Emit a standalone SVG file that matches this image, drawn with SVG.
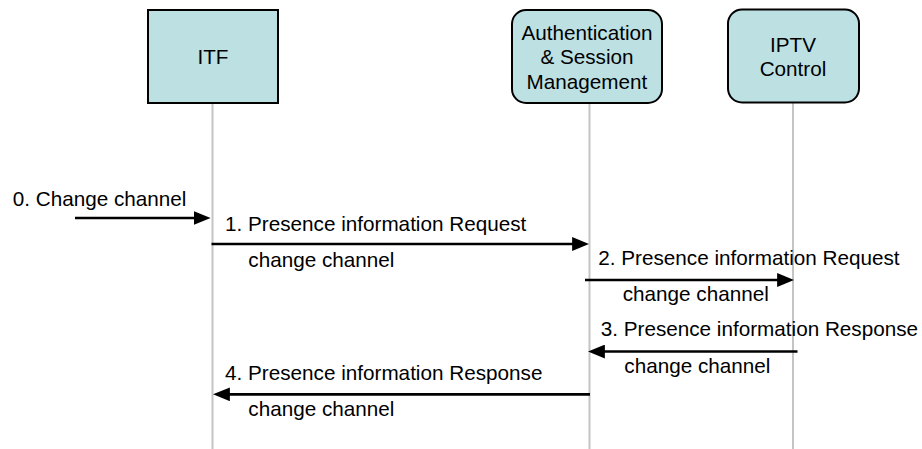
<svg xmlns="http://www.w3.org/2000/svg" width="922" height="449" viewBox="0 0 922 449">
<defs>
<style>
text{font-family:"Liberation Sans",Arial,sans-serif;font-size:20.7px;fill:#000}
.box{fill:#bde0e3;stroke:#000;stroke-width:2}
.life{stroke:#c4c4c4;stroke-width:2;fill:none}
.msg{stroke:#000;stroke-width:2.7;fill:none;marker-end:url(#ah)}
.c{text-anchor:middle}
</style>
<marker id="ah" markerUnits="userSpaceOnUse" markerWidth="17" markerHeight="14" viewBox="0 0 16 13" refX="6" refY="6.5" orient="auto">
<path d="M0,0 L16,6.5 L0,13 z" fill="#000"/>
</marker>
</defs>
<rect width="922" height="449" fill="#fff"/>
<g id="lifelines">
<line class="life" x1="212.5" y1="103" x2="212.5" y2="449"/>
<line class="life" x1="589.5" y1="103" x2="589.5" y2="449"/>
<line class="life" x1="793" y1="103" x2="793" y2="449"/>
</g>
<g id="node-itf">
<rect class="box" x="148" y="10" width="130" height="93"/>
<text class="c" x="213" y="64.3">ITF</text>
</g>
<g id="node-asm">
<rect class="box" x="512" y="10" width="150" height="93" rx="14" ry="14"/>
<text class="c" x="587" y="40">Authentication</text>
<text class="c" x="587" y="64.3">&amp; Session</text>
<text class="c" x="587" y="88.5">Management</text>
</g>
<g id="node-iptv">
<rect class="box" x="728" y="9.5" width="131" height="93" rx="14" ry="14"/>
<text class="c" x="793" y="51.7">IPTV</text>
<text class="c" x="793" y="76.3">Control</text>
</g>
<g id="connectors">
<line class="msg" x1="75" y1="218" x2="200" y2="218"/>
<line class="msg" x1="211.5" y1="244" x2="578.5" y2="244"/>
<line class="msg" x1="585" y1="280" x2="783.5" y2="280"/>
<line class="msg" x1="797.5" y1="351.5" x2="598.5" y2="351.5"/>
<line class="msg" x1="590" y1="394.3" x2="223.5" y2="394.3"/>
</g>
<g id="labels">
<text x="12.7" y="205.5">0. Change channel</text>
<text x="225" y="231">1. Presence information Request</text>
<text x="248.3" y="267">change channel</text>
<text x="598.3" y="265">2. Presence information Request</text>
<text x="622.7" y="301">change channel</text>
<text x="600.7" y="336.3">3. Presence information Response</text>
<text x="624.3" y="373">change channel</text>
<text x="225" y="380">4. Presence information Response</text>
<text x="248.3" y="416">change channel</text>
</g>
</svg>
